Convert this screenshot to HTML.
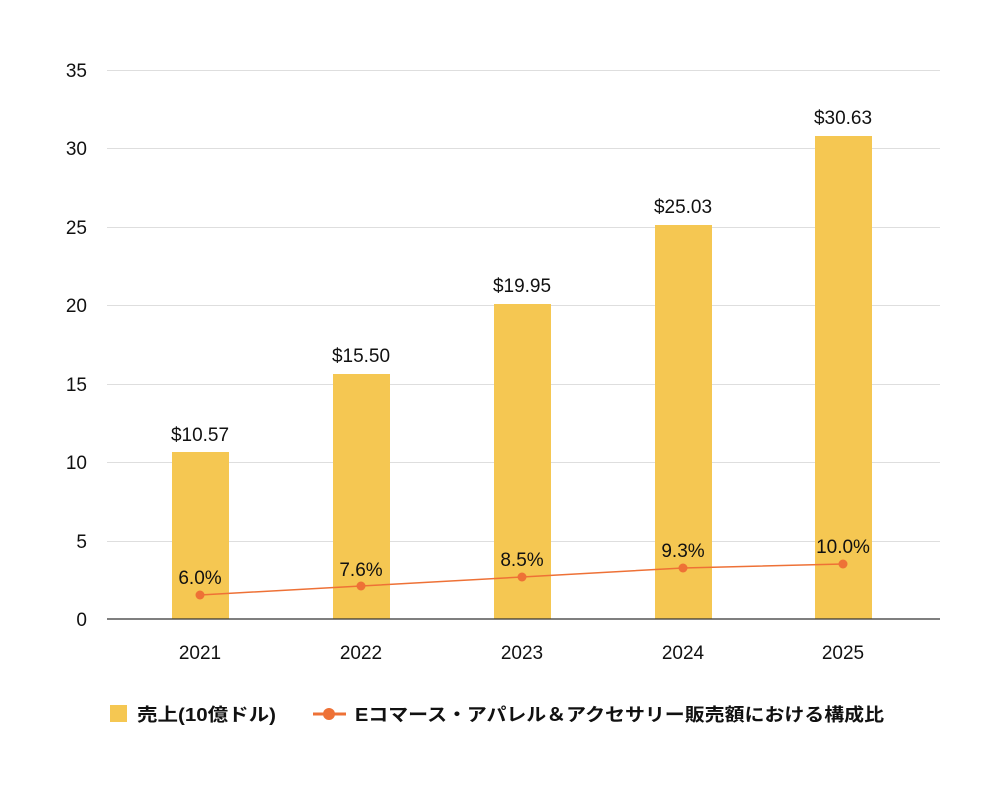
<!DOCTYPE html>
<html><head><meta charset="utf-8"><style>
body{margin:0;background:#fff}
svg text{font-family:"Liberation Sans","Noto Sans CJK JP",sans-serif;fill:#111}
</style></head><body>
<svg width="1000" height="785" viewBox="0 0 1000 785" xmlns="http://www.w3.org/2000/svg">
<g stroke="#dedede" stroke-width="1">
<line x1="107" x2="940" y1="70.5" y2="70.5"/>
<line x1="107" x2="940" y1="148.5" y2="148.5"/>
<line x1="107" x2="940" y1="227.5" y2="227.5"/>
<line x1="107" x2="940" y1="305.5" y2="305.5"/>
<line x1="107" x2="940" y1="384.5" y2="384.5"/>
<line x1="107" x2="940" y1="462.5" y2="462.5"/>
<line x1="107" x2="940" y1="541.5" y2="541.5"/>
</g>
<g font-size="19" text-anchor="end">
<text x="87" y="77">35</text><text x="87" y="155">30</text><text x="87" y="234">25</text>
<text x="87" y="312">20</text><text x="87" y="391">15</text><text x="87" y="469">10</text>
<text x="87" y="548">5</text><text x="87" y="626">0</text>
</g>
<g fill="#f5c752">
<rect x="172" y="452" width="57" height="167"/>
<rect x="333" y="374" width="57" height="245"/>
<rect x="494" y="304" width="57" height="315"/>
<rect x="655" y="225" width="57" height="394"/>
<rect x="815" y="136" width="57" height="483"/>
</g>
<line x1="107" x2="940" y1="619" y2="619" stroke="#333" stroke-width="1.2"/>
<g font-size="19" text-anchor="middle">
<text x="200" y="441">$10.57</text><text x="361" y="362">$15.50</text>
<text x="522" y="292">$19.95</text><text x="683" y="213">$25.03</text>
<text x="843" y="124">$30.63</text>
</g>
<polyline points="200,595 361,586 522,577 683,568 843,564" fill="none" stroke="#ee7136" stroke-width="1.5"/>
<g fill="#ee7136">
<circle cx="200" cy="595" r="4.5"/><circle cx="361" cy="586" r="4.5"/><circle cx="522" cy="577" r="4.5"/>
<circle cx="683" cy="568" r="4.5"/><circle cx="843" cy="564" r="4.5"/>
</g>
<g font-size="19" text-anchor="middle">
<text x="200" y="584">6.0%</text><text x="361" y="576">7.6%</text><text x="522" y="566">8.5%</text>
<text x="683" y="557">9.3%</text><text x="843" y="553">10.0%</text>
</g>
<g font-size="19" text-anchor="middle">
<text x="200" y="659">2021</text><text x="361" y="659">2022</text><text x="522" y="659">2023</text>
<text x="683" y="659">2024</text><text x="843" y="659">2025</text>
</g>
<rect x="110" y="705" width="17" height="17" fill="#f5c752"/>
<text x="137" y="721" font-size="18" font-weight="bold" textLength="139" lengthAdjust="spacingAndGlyphs">売上(10億ドル)</text>
<line x1="313" x2="346" y1="714" y2="714" stroke="#ee7136" stroke-width="3"/>
<circle cx="329" cy="714" r="6" fill="#ee7136"/>
<text x="355" y="721" font-size="18" font-weight="bold" textLength="529" lengthAdjust="spacingAndGlyphs">Eコマース・アパレル＆アクセサリー販売額における構成比</text>
</svg>
</body></html>
